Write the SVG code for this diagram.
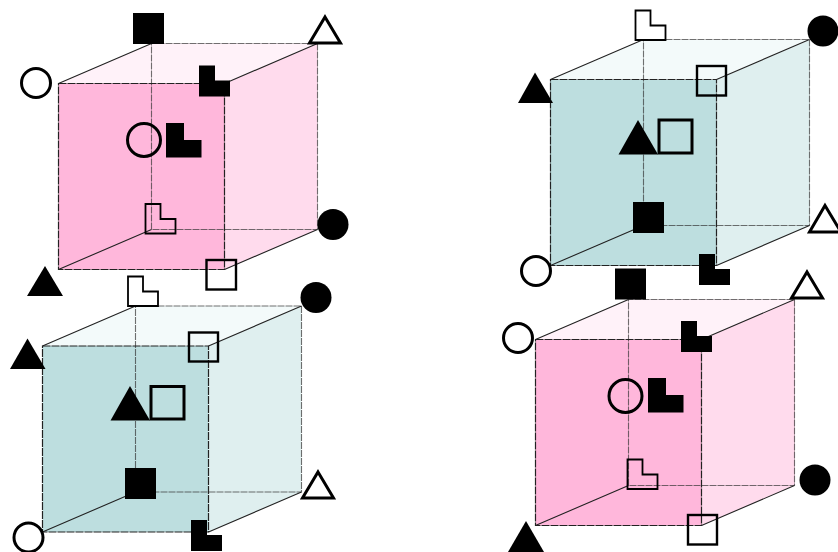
<svg xmlns="http://www.w3.org/2000/svg" width="838" height="552" viewBox="0 0 838 552">
<style>
.pf{fill:#ffb7db}.pr{fill:#ffdbed}.pt{fill:#fff2f9}
.tf{fill:#bddedf}.tr{fill:#dfefef}.tt{fill:#f3fafa}
.e{fill:none;stroke:#222;stroke-width:1.100}
.d{fill:none;stroke:#222;stroke-width:1.200;stroke-dasharray:8 1}
.b{fill:none;stroke:#333;stroke-width:1.100;stroke-dasharray:7 1;stroke-opacity:.7}
.k{fill:#000;stroke:none}
.o{fill:none;stroke:#000;stroke-width:2.400}
.s{fill:none;stroke:#000;stroke-width:3}
.t{fill:none;stroke:#000;stroke-width:3;stroke-miterlimit:8}
.l{fill:none;stroke:#000;stroke-width:1.800}
</style>
<defs>
<g id="edges">
<path class="b" d="M93 146V-40H259V146Z"/>
<path class="d" d="M0 0H166V186H0Z"/>
<path class="e" d="M0 0L93 -40M166 0L259 -40M166 186L259 146M0 186L93 146"/>
</g>
<path id="lb" class="k" d="M0 0H16V15H31V31H0Z"/>
<path id="lo" class="l" d="M0 0H15V15H30V29.500H0Z"/>
</defs>

<g id="connectors">
<g id="cube-tl">
<path class="pr" d="M224.500 83.500L317.500 43.500V229.500L224.500 269.500Z"/><path class="pt" d="M58.500 83.500L151.500 43.500H317.500L224.500 83.500Z"/><rect class="pf" x="58.500" y="83.500" width="166" height="186"/>
<use href="#edges" x="58.500" y="83.500"/>
</g>
<g id="cube-tr">
<path class="tr" d="M716 80L809.500 40V225.500L716 266Z"/><path class="tt" d="M550 80L643.500 40H809.500L716 80Z"/><rect class="tf" x="550" y="80" width="166" height="186"/>
<use href="#edges" x="550.500" y="79.500"/>
</g>
<g id="cube-bl">
<path class="tr" d="M208.500 346L301.500 306V492L208.500 532Z"/><path class="tt" d="M42.500 346L135.500 306H301.500L208.500 346Z"/><rect class="tf" x="42.500" y="346" width="166" height="186"/>
<use href="#edges" x="42.500" y="346"/>
</g>
<g id="cube-br">
<path class="pr" d="M701.500 339.500L795 299V485L701.500 525.500Z"/><path class="pt" d="M535.500 339.500L629 299H795L701.500 339.500Z"/><rect class="pf" x="535.500" y="339.500" width="166" height="186"/>
<use href="#edges" x="535.500" y="339.500"/>
</g>
</g>

<g id="marks-tl">
<rect id="tl-a" class="k" x="133" y="13" width="31" height="31"/>
<path id="tl-b" class="t" d="M325 17L340.500 43H309.500Z"/>
<circle id="tl-c" class="t" cx="36" cy="83" r="14.500"/>
<use id="tl-d" href="#lb" x="199" y="65.500"/>
<circle id="tl-e" class="t" cx="144" cy="140" r="16.500"/>
<path id="tl-f" class="k" d="M166 123H184V140H201.500V157.500H166Z"/>
<use id="tl-g" href="#lo" x="145.500" y="204"/>
<circle id="tl-h" class="k" cx="333" cy="224.500" r="15.500"/>
<rect id="tl-i" class="o" x="206.500" y="260" width="29.500" height="29.500"/>
<path id="tl-j" class="k" d="M45 266L63 296H27Z"/>
</g>

<g id="marks-tr">
<use id="tr-a" href="#lo" x="635.500" y="10.500"/>
<circle id="tr-b" class="k" cx="823" cy="31" r="15.500"/>
<rect id="tr-c" class="o" x="697" y="66" width="29" height="29.500"/>
<path id="tr-d" class="k" d="M535 72.500L553 103H518Z"/>
<circle id="tr-e" class="t" cx="536" cy="271" r="14.500"/>
<path id="tr-f" class="k" d="M638 120L658 154.500H618.500Z"/>
<rect id="tr-g" class="s" x="659" y="120" width="33" height="33"/>
<rect id="tr-h" class="k" x="633" y="202" width="31" height="31"/>
<path id="tr-i" class="t" d="M825 205.500L841 232H809.500Z"/>
<use id="tr-j" href="#lb" x="699" y="254"/>
</g>

<g id="marks-bl">
<use id="bl-a" href="#lo" x="128" y="276.500"/>
<circle id="bl-b" class="k" cx="316" cy="297.500" r="15.500"/>
<rect id="bl-c" class="o" x="189" y="332.500" width="29" height="29"/>
<path id="bl-d" class="k" d="M27.500 338.500L45.500 369H10Z"/>
<path id="bl-e" class="k" d="M130 386L150 420.500H110.500Z"/>
<rect id="bl-f" class="s" x="151" y="386.500" width="33" height="32.500"/>
<rect id="bl-g" class="k" x="125" y="468" width="31" height="31"/>
<path id="bl-h" class="t" d="M318 472L333.500 498H302.500Z"/>
<circle id="bl-i" class="t" cx="28.500" cy="537.500" r="14.500"/>
<use id="bl-j" href="#lb" x="191" y="520"/>
</g>

<g id="marks-br">
<rect id="br-a" class="k" x="615" y="268.500" width="31" height="31"/>
<path id="br-b" class="t" d="M807 272L822.500 298H791.500Z"/>
<circle id="br-c" class="t" cx="518" cy="338" r="14.500"/>
<use id="br-d" href="#lb" x="681" y="321"/>
<circle id="br-e" class="t" cx="625.500" cy="396" r="16.500"/>
<path id="br-f" class="k" d="M648 378H666V395H683.500V412.500H648Z"/>
<use id="br-g" href="#lo" x="627.500" y="459.500"/>
<circle id="br-h" class="k" cx="815" cy="480" r="15.500"/>
<rect id="br-i" class="o" x="688" y="515" width="29" height="29.500"/>
<path id="br-j" class="k" d="M526 521L544 552H508Z"/>
</g>
</svg>
